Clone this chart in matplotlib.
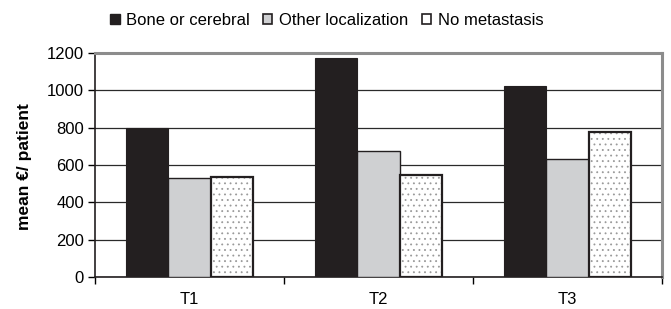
import matplotlib
matplotlib.use("Agg")
import matplotlib.pyplot as plt
from matplotlib.patches import Patch
import numpy as np

plt.rcParams['font.family'] = ['Liberation Sans', 'DejaVu Sans']
plt.rcParams['hatch.linewidth'] = 0.6

categories = ["T1", "T2", "T3"]
series = ["Bone or cerebral", "Other localization", "No metastasis"]
bone = [800, 1175, 1025]
other = [530, 675, 630]
none_ = [535, 545, 775]

fig = plt.figure(figsize=(6.71, 3.09), dpi=100)
ax = fig.add_axes([0.1416, 0.1036, 0.845, 0.725])

x = np.arange(len(categories))
w = 0.225

ax.bar(x - w, bone, w, color='#231f20', edgecolor='#231f20', linewidth=0.8, zorder=3)
ax.bar(x, other, w, color='#cfd0d2', edgecolor='#231f20', linewidth=1.0, zorder=3)
# dotted fill: gray dots, then black outline on top
ax.bar(x + w, none_, w, color='white', edgecolor='#9a9a9a', hatch='...', linewidth=0, zorder=3)
ax.bar(x + w, none_, w, fill=False, edgecolor='#231f20', linewidth=1.6, zorder=4)

ax.set_xlim(-0.5, 2.5)
ax.set_ylim(0, 1200)
ax.set_yticks(range(0, 1201, 200))
ax.yaxis.grid(True, color='#2a2a2a', linewidth=0.9, zorder=0)
ax.set_axisbelow(True)

ax.set_xticks([-0.5, 0.5, 1.5, 2.5])
ax.set_xticklabels([])
ax.set_xticks(x, minor=True)
ax.set_xticklabels(categories, minor=True)
ax.tick_params(axis='x', which='minor', length=0, pad=11, labelsize=12)
ax.tick_params(axis='x', which='major', length=5, width=1, direction='out')
ax.tick_params(axis='y', length=5, width=1, direction='out', labelsize=12, pad=3)

for s in ['left', 'bottom']:
    ax.spines[s].set_color('#231f20')
    ax.spines[s].set_linewidth(1.2)
for s in ['top', 'right']:
    ax.spines[s].set_color('#8c8c8c')
    ax.spines[s].set_linewidth(2.2)

ax.set_ylabel("mean €/ patient", fontweight='bold', fontsize=12.5)
ax.yaxis.set_label_coords(-0.112, 0.495)

handles = [
    Patch(facecolor='#231f20', edgecolor='#231f20'),
    Patch(facecolor='#cfd0d2', edgecolor='#231f20', linewidth=1.2),
    Patch(facecolor='white', edgecolor='#231f20', linewidth=1.2),
]
fig.legend(handles, series, loc='center', bbox_to_anchor=(0.487, 0.935),
           ncol=3, frameon=False, fontsize=12, handlelength=0.55,
           handleheight=0.55, handletextpad=0.4, columnspacing=0.8)

fig.savefig("out.png", dpi=100)
